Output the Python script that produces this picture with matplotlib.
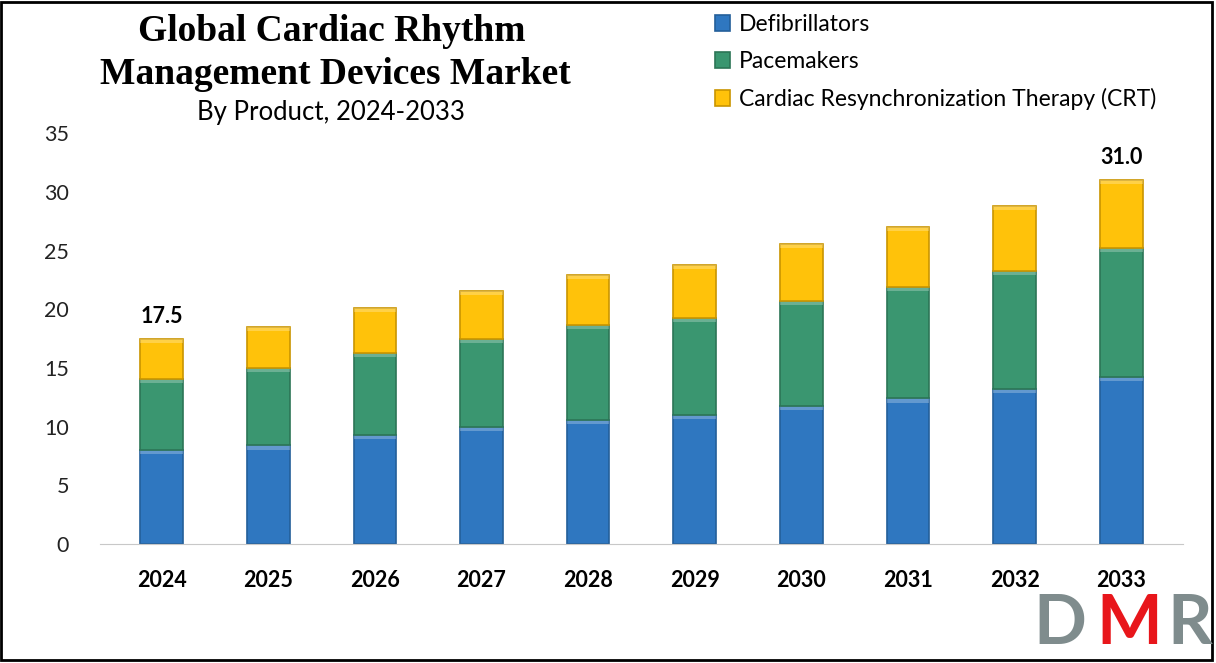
import matplotlib.pyplot as plt
import numpy as np
from matplotlib.patches import Rectangle

years = ['2024', '2025', '2026', '2027', '2028', '2029', '2030', '2031', '2032', '2033']
defibrillators = [8.0, 8.4, 9.3, 10.0, 10.6, 11.0, 11.8, 12.4, 13.2, 14.2]
pacemakers = [6.1, 6.6, 7.0, 7.5, 8.1, 8.3, 8.9, 9.5, 10.1, 11.0]
crt = [3.4, 3.5, 3.8, 4.1, 4.2, 4.5, 4.9, 5.1, 5.5, 5.8]
series_names = ['Defibrillators', 'Pacemakers', 'Cardiac Resynchronization Therapy (CRT)']
colors = ['#2F77C0', '#3A9670', '#FFC20A']
edges = ['#245F9A', '#2C7556', '#C99500']
total_labels = {0: '17.5', 9: '31.0'}

sans = ['Lato', 'DejaVu Sans']
serif = ['Liberation Serif', 'DejaVu Serif']

fig = plt.figure(figsize=(12.16, 6.63), dpi=100)
ax = fig.add_axes([0.082, 0.1795, 0.891, 0.6195])

x = np.arange(len(years))
width = 0.40
bottom = np.zeros(len(years))
handles = []
for vals, name, c, ec in zip([defibrillators, pacemakers, crt], series_names, colors, edges):
    bars = ax.bar(x, vals, width, bottom=bottom, color=c, edgecolor=ec, linewidth=1.2, label=name)
    # light bevel strip on top of each segment
    for xi, b, v in zip(x, bottom, vals):
        ax.add_patch(Rectangle((xi - width / 2, b + v - 0.35), width, 0.35,
                               facecolor='white', alpha=0.25, linewidth=0))
    handles.append(bars)
    bottom = bottom + np.array(vals)

for i, txt in total_labels.items():
    ax.text(x[i], bottom[i] + 1.0, txt, ha='center', va='bottom', fontsize=15.5,
            fontweight='bold', family=sans)

ax.set_xlim(-0.58, 9.58)
ax.set_ylim(0, 35)
ax.set_yticks(range(0, 36, 5))
ax.set_xticks(x)
ax.set_xticklabels(years, fontsize=15.5, fontweight='bold', family=sans)
for lab in ax.get_yticklabels():
    lab.set_fontsize(15.5)
    lab.set_family(sans)
    lab.set_color('#222222')
ax.tick_params(axis='both', length=0)
ax.tick_params(axis='y', pad=22)
ax.tick_params(axis='x', pad=19)
for s in ['top', 'right', 'left']:
    ax.spines[s].set_visible(False)
ax.spines['bottom'].set_color('#C8C8C8')

# title block
fig.text(0.273, 0.952, 'Global Cardiac Rhythm', ha='center', va='center',
         fontsize=27, fontweight='bold', family=serif)
fig.text(0.276, 0.888, 'Management Devices Market', ha='center', va='center',
         fontsize=27, fontweight='bold', family=serif)
fig.text(0.272, 0.830, 'By Product, 2024-2033', ha='center', va='center',
         fontsize=18.5, family=sans)

leg = fig.legend(handles=handles, labels=series_names, loc='upper left',
                 bbox_to_anchor=(0.571, 1.01), frameon=False,
                 handlelength=0.65, handleheight=0.65, handletextpad=0.4,
                 labelspacing=0.7, prop={'family': sans, 'size': 16.5})

# logo
fig.text(0.850, 0.01, 'D', color='#7F8C8D', fontsize=50, fontweight='bold', family=sans, va='bottom')
fig.text(0.902, 0.01, 'M', color='#E8161B', fontsize=50, fontweight='bold', family=sans, va='bottom')
fig.text(0.960, 0.01, 'R', color='#7F8C8D', fontsize=50, fontweight='bold', family=sans, va='bottom')

fig.patches.append(Rectangle((0.001, 0.004), 0.996, 0.993, transform=fig.transFigure,
                             fill=False, edgecolor='black', linewidth=2))

fig.savefig('out.png', dpi=100)
